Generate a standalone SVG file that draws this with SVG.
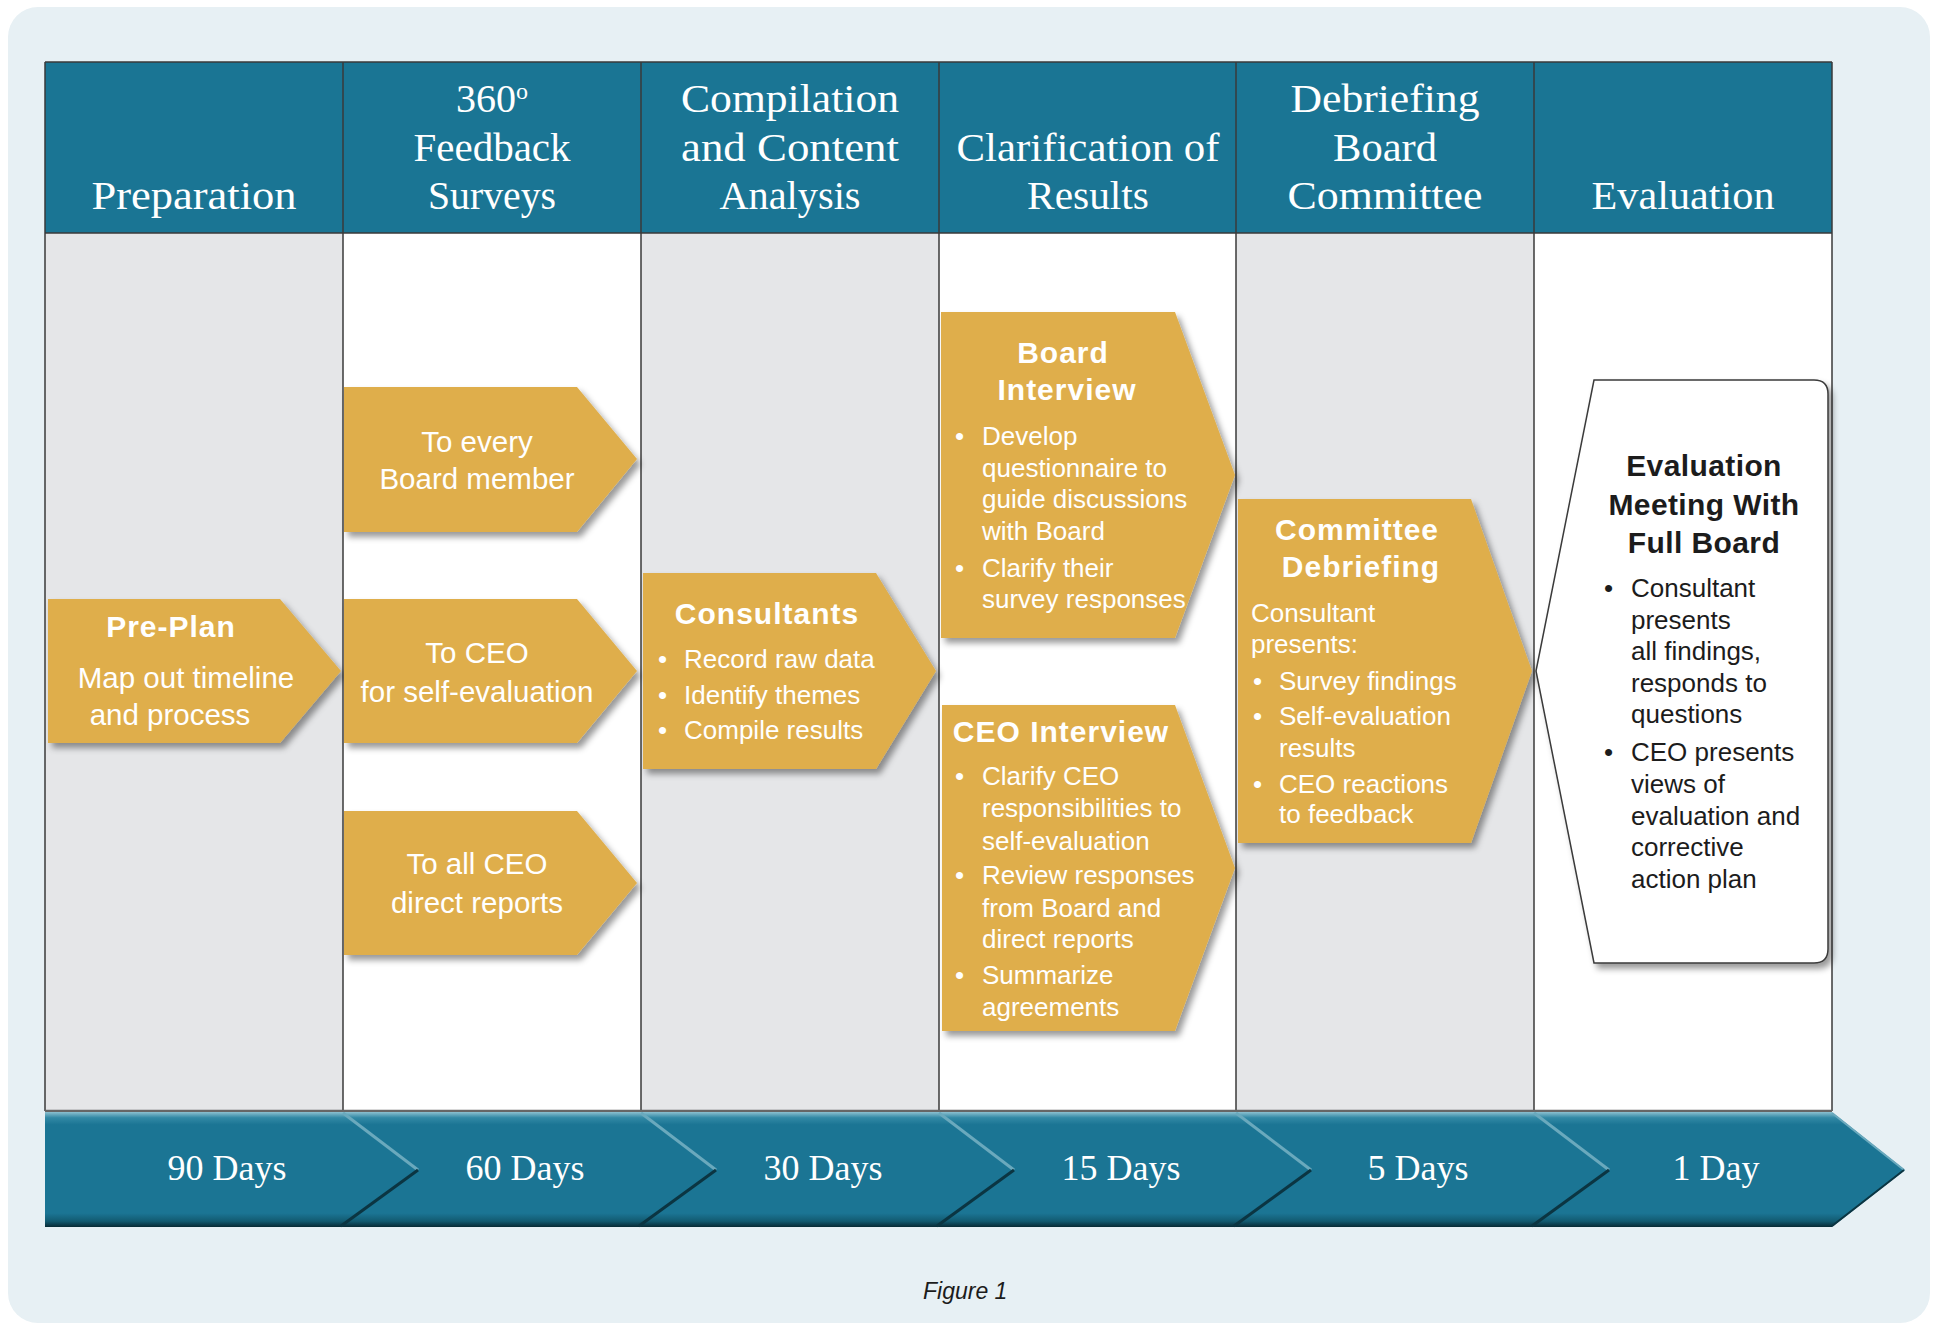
<svg xmlns="http://www.w3.org/2000/svg" width="1935" height="1324" viewBox="0 0 1935 1324">
  <defs>
    <style>
      .hdr { font-family: "Liberation Serif", "Times New Roman", serif; font-size: 40px; fill: #ffffff; text-anchor: middle; }
      .day { font-family: "Liberation Serif", "Times New Roman", serif; font-size: 36px; fill: #ffffff; text-anchor: middle; }
      .gold { fill: #dfae4c; filter: url(#shadow); }
      .t { font-family: "Liberation Sans", Arial, sans-serif; font-size: 29.5px; fill: #ffffff; }
      .s { font-family: "Liberation Sans", Arial, sans-serif; font-size: 26px; fill: #ffffff; }
      .b { font-family: "Liberation Sans", Arial, sans-serif; font-size: 30px; font-weight: bold; fill: #ffffff; letter-spacing: 1px; }
      .dk { fill: #1c1c1c; }
      .mid { text-anchor: middle; }
      .colline { stroke: #3a3a3a; stroke-width: 1.5; }
    </style>
    <filter id="shadow" x="-10%" y="-10%" width="125%" height="125%">
      <feDropShadow dx="4" dy="5" stdDeviation="3" flood-color="#000000" flood-opacity="0.4"/>
    </filter>
    <linearGradient id="band" x1="0" y1="0" x2="0" y2="1">
      <stop offset="0" stop-color="#8cc0d0"/>
      <stop offset="0.05" stop-color="#3289a5"/>
      <stop offset="0.11" stop-color="#1b7594"/>
      <stop offset="0.88" stop-color="#1b7594"/>
      <stop offset="0.95" stop-color="#125a70"/>
      <stop offset="1" stop-color="#082a35"/>
    </linearGradient>
  </defs>

  <!-- page panel -->
  <rect x="8" y="7" width="1922" height="1316" rx="30" fill="#e7f0f4"/>

  <!-- column bodies -->
  <g id="columns">
    <rect x="45" y="233" width="298" height="878" fill="#e5e6e8"/>
    <rect x="343" y="233" width="298" height="878" fill="#ffffff"/>
    <rect x="641" y="233" width="298" height="878" fill="#e5e6e8"/>
    <rect x="939" y="233" width="297" height="878" fill="#ffffff"/>
    <rect x="1236" y="233" width="298" height="878" fill="#e5e6e8"/>
    <rect x="1534" y="233" width="298" height="878" fill="#ffffff"/>
    <rect x="45" y="62" width="1787" height="171" fill="#1a7594"/>
    <g class="colline">
      <line x1="45" y1="62" x2="1832" y2="62"/>
      <line x1="45" y1="233" x2="1832" y2="233"/>
      <line x1="45" y1="62" x2="45" y2="1111"/>
      <line x1="343" y1="62" x2="343" y2="1111"/>
      <line x1="641" y1="62" x2="641" y2="1111"/>
      <line x1="939" y1="62" x2="939" y2="1111"/>
      <line x1="1236" y1="62" x2="1236" y2="1111"/>
      <line x1="1534" y1="62" x2="1534" y2="1111"/>
      <line x1="1832" y1="62" x2="1832" y2="1111"/>
    </g>
    <line x1="45" y1="1111" x2="1832" y2="1111" stroke="#666666" stroke-width="2.5"/>
  </g>

  <!-- column headings -->
  <g id="headings">
    <text class="hdr" x="194" y="209" textLength="205" lengthAdjust="spacingAndGlyphs">Preparation</text>
    <text class="hdr" x="492" y="112">360<tspan font-size="24" dy="-13">o</tspan></text>
    <text class="hdr" x="492" y="161" textLength="157" lengthAdjust="spacingAndGlyphs">Feedback</text>
    <text class="hdr" x="492" y="209" textLength="128" lengthAdjust="spacingAndGlyphs">Surveys</text>
    <text class="hdr" x="790" y="112" textLength="218" lengthAdjust="spacingAndGlyphs">Compilation</text>
    <text class="hdr" x="790" y="161" textLength="218" lengthAdjust="spacingAndGlyphs">and Content</text>
    <text class="hdr" x="790" y="209" textLength="141" lengthAdjust="spacingAndGlyphs">Analysis</text>
    <text class="hdr" x="1088" y="161" textLength="263" lengthAdjust="spacingAndGlyphs">Clarification of</text>
    <text class="hdr" x="1088" y="209" textLength="122" lengthAdjust="spacingAndGlyphs">Results</text>
    <text class="hdr" x="1385" y="112" textLength="189" lengthAdjust="spacingAndGlyphs">Debriefing</text>
    <text class="hdr" x="1385" y="161" textLength="104" lengthAdjust="spacingAndGlyphs">Board</text>
    <text class="hdr" x="1385" y="209" textLength="195" lengthAdjust="spacingAndGlyphs">Committee</text>
    <text class="hdr" x="1683" y="209" textLength="183" lengthAdjust="spacingAndGlyphs">Evaluation</text>
  </g>

  <!-- Preparation -->
  <g id="pre-plan">
    <polygon class="gold" points="48,599 280,599 341,671 280,743 48,743"/>
    <text class="b mid" x="171" y="637">Pre-Plan</text>
    <text class="t mid" x="186" y="688">Map out timeline</text>
    <text class="t mid" x="170" y="725">and process</text>
  </g>

  <!-- 360 feedback surveys -->
  <g id="survey-board">
    <polygon class="gold" points="344,387 577,387 637,459 577,532 344,532"/>
    <text class="t mid" x="477" y="452">To every</text>
    <text class="t mid" x="477" y="489">Board member</text>
  </g>
  <g id="survey-ceo">
    <polygon class="gold" points="344,599 577,599 637,671 577,743 344,743"/>
    <text class="t mid" x="477" y="663">To CEO</text>
    <text class="t mid" x="477" y="702">for self-evaluation</text>
  </g>
  <g id="survey-reports">
    <polygon class="gold" points="344,811 577,811 637,883 577,955 344,955"/>
    <text class="t mid" x="477" y="874">To all CEO</text>
    <text class="t mid" x="477" y="913">direct reports</text>
  </g>

  <!-- Compilation -->
  <g id="consultants">
    <polygon class="gold" points="643,573 876,573 936,671 876,769 643,769"/>
    <text class="b mid" x="767" y="624">Consultants</text>
    <text class="s" x="658" y="668">•</text><text class="s" x="684" y="668">Record raw data</text>
    <text class="s" x="658" y="704">•</text><text class="s" x="684" y="704">Identify themes</text>
    <text class="s" x="658" y="739">•</text><text class="s" x="684" y="739">Compile results</text>
  </g>

  <!-- Clarification -->
  <g id="board-interview">
    <polygon class="gold" points="941,312 1175,312 1235,475 1175,638 941,638"/>
    <text class="b mid" x="1063" y="363">Board</text>
    <text class="b mid" x="1067" y="400">Interview</text>
    <text class="s" x="955" y="445">•</text><text class="s" x="982" y="445">Develop</text>
    <text class="s" x="982" y="477">questionnaire to</text>
    <text class="s" x="982" y="508">guide discussions</text>
    <text class="s" x="982" y="540">with Board</text>
    <text class="s" x="955" y="577">•</text><text class="s" x="982" y="577">Clarify their</text>
    <text class="s" x="982" y="608">survey responses</text>
  </g>
  <g id="ceo-interview">
    <polygon class="gold" points="942,705 1175,705 1235,868 1175,1031 942,1031"/>
    <text class="b mid" x="1061" y="742">CEO Interview</text>
    <text class="s" x="955" y="785">•</text><text class="s" x="982" y="785">Clarify CEO</text>
    <text class="s" x="982" y="817">responsibilities to</text>
    <text class="s" x="982" y="850">self-evaluation</text>
    <text class="s" x="955" y="884">•</text><text class="s" x="982" y="884">Review responses</text>
    <text class="s" x="982" y="917">from Board and</text>
    <text class="s" x="982" y="948">direct reports</text>
    <text class="s" x="955" y="984">•</text><text class="s" x="982" y="984">Summarize</text>
    <text class="s" x="982" y="1016">agreements</text>
  </g>

  <!-- Debriefing -->
  <g id="committee-debriefing">
    <polygon class="gold" points="1238,499 1471,499 1532,671 1471,843 1238,843"/>
    <text class="b mid" x="1357" y="540">Committee</text>
    <text class="b mid" x="1361" y="577">Debriefing</text>
    <text class="s" x="1251" y="622">Consultant</text>
    <text class="s" x="1251" y="653">presents:</text>
    <text class="s" x="1253" y="690">•</text><text class="s" x="1279" y="690">Survey findings</text>
    <text class="s" x="1253" y="725">•</text><text class="s" x="1279" y="725">Self-evaluation</text>
    <text class="s" x="1279" y="757">results</text>
    <text class="s" x="1253" y="793">•</text><text class="s" x="1279" y="793">CEO reactions</text>
    <text class="s" x="1279" y="823">to feedback</text>
  </g>

  <!-- Evaluation -->
  <g id="evaluation-meeting">
    <path d="M1594,380 H1814 Q1828,380 1828,394 V949 Q1828,963 1814,963 H1594 L1536,671 Z" fill="#ffffff" stroke="#3a3a3a" stroke-width="1.5" filter="url(#shadow)"/>
    <text class="b dk mid" x="1704" y="476" style="letter-spacing:0.4px">Evaluation</text>
    <text class="b dk mid" x="1704" y="515" style="letter-spacing:0.4px">Meeting With</text>
    <text class="b dk mid" x="1704" y="553" style="letter-spacing:0.4px">Full Board</text>
    <text class="s dk" x="1604" y="597">•</text><text class="s dk" x="1631" y="597">Consultant</text>
    <text class="s dk" x="1631" y="629">presents</text>
    <text class="s dk" x="1631" y="660">all findings,</text>
    <text class="s dk" x="1631" y="692">responds to</text>
    <text class="s dk" x="1631" y="723">questions</text>
    <text class="s dk" x="1604" y="761">•</text><text class="s dk" x="1631" y="761">CEO presents</text>
    <text class="s dk" x="1631" y="793">views of</text>
    <text class="s dk" x="1631" y="825">evaluation and</text>
    <text class="s dk" x="1631" y="856">corrective</text>
    <text class="s dk" x="1631" y="888">action plan</text>
  </g>

  <!-- timeline band -->
  <g id="timeline">
    <polygon points="45,1112 1832,1112 1905,1170 1832,1227 45,1227" fill="url(#band)"/>
    <g fill="none" stroke-width="3">
      <path d="M343,1113 L418,1170" stroke="#6aa9bd"/>
      <path d="M418,1170 L341,1226" stroke="#0b3542"/>
      <path d="M641,1113 L716,1170" stroke="#6aa9bd"/>
      <path d="M716,1170 L639,1226" stroke="#0b3542"/>
      <path d="M939,1113 L1014,1170" stroke="#6aa9bd"/>
      <path d="M1014,1170 L937,1226" stroke="#0b3542"/>
      <path d="M1236,1113 L1311,1170" stroke="#6aa9bd"/>
      <path d="M1311,1170 L1234,1226" stroke="#0b3542"/>
      <path d="M1534,1113 L1609,1170" stroke="#6aa9bd"/>
      <path d="M1609,1170 L1532,1226" stroke="#0b3542"/>
      <path d="M1832,1113 L1904,1170" stroke="#6aa9bd" stroke-width="2"/>
      <path d="M1904,1170 L1832,1226" stroke="#0b3542" stroke-width="2"/>
    </g>
    <text class="day" x="227" y="1180">90 Days</text>
    <text class="day" x="525" y="1180">60 Days</text>
    <text class="day" x="823" y="1180">30 Days</text>
    <text class="day" x="1121" y="1180">15 Days</text>
    <text class="day" x="1418" y="1180">5 Days</text>
    <text class="day" x="1716" y="1180">1 Day</text>
  </g>

  <text x="923" y="1299" font-family="Liberation Sans, Arial, sans-serif" font-style="italic" font-size="23" fill="#1c1c1c">Figure 1</text>
</svg>
